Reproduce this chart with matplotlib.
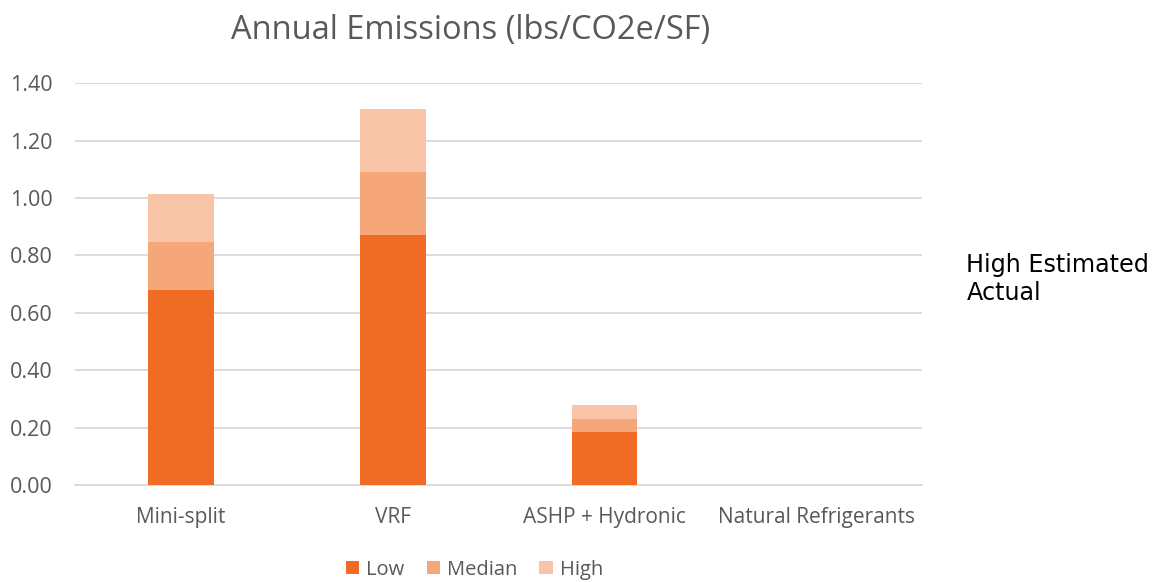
import matplotlib.pyplot as plt
import numpy as np

categories = ['Mini-split', 'VRF', 'ASHP + Hydronic', 'Natural Refrigerants']
low = [0.678, 0.872, 0.186, 0.0]
median = [0.168, 0.219, 0.045, 0.0]
high = [0.168, 0.219, 0.047, 0.0]
y_ticks = [0.0, 0.2, 0.4, 0.6, 0.8, 1.0, 1.2, 1.4]

c_low = '#F06B23'
c_med = '#F5A779'
c_high = '#F8C5A9'
text_gray = '#595959'

plt.rcParams['font.family'] = ['Open Sans', 'DejaVu Sans']

fig = plt.figure(figsize=(11.63, 5.82), dpi=100)
ax = fig.add_axes([0.0645, 0.1667, 0.7285, 0.6903])

x = np.arange(len(categories))
w = 0.31
low_a = np.array(low)
med_a = np.array(median)
high_a = np.array(high)
ax.bar(x, low_a, w, color=c_low, label='Low', zorder=3)
ax.bar(x, med_a, w, bottom=low_a, color=c_med, label='Median', zorder=3)
ax.bar(x, high_a, w, bottom=low_a + med_a, color=c_high, label='High', zorder=3)

ax.set_xlim(-0.5, len(categories) - 0.5)
ax.set_ylim(0, 1.4)
ax.set_yticks(y_ticks)
ax.set_yticklabels([f'{v:.2f}' for v in y_ticks])
ax.set_xticks(x)
ax.set_xticklabels(categories)
ax.yaxis.grid(True, color='#D9D9D9', linewidth=1.3, zorder=0)
ax.set_axisbelow(True)
for s in ['top', 'right', 'left']:
    ax.spines[s].set_visible(False)
ax.spines['bottom'].set_color('#D9D9D9')
ax.spines['bottom'].set_linewidth(1.3)
ax.tick_params(axis='x', length=0, labelsize=15, colors=text_gray, pad=16)
ax.tick_params(axis='y', length=0, labelsize=15.5, colors=text_gray, pad=16)

fig.text(0.405, 0.948, 'Annual Emissions (lbs/CO2e/SF)', ha='center', va='center',
         fontsize=23.5, color=text_gray)

fig.text(0.831, 0.52, 'High Estimated\nActual', ha='left', va='center',
         fontsize=17.2, color='black', family='DejaVu Sans', linespacing=1.2)

leg = fig.legend(loc='center', bbox_to_anchor=(0.408, 0.021), ncol=3, frameon=False,
                 fontsize=14.5, handlelength=0.65, handleheight=0.65, handletextpad=0.35,
                 columnspacing=1.1)
for t in leg.get_texts():
    t.set_color(text_gray)

fig.savefig('out.png', dpi=100)
